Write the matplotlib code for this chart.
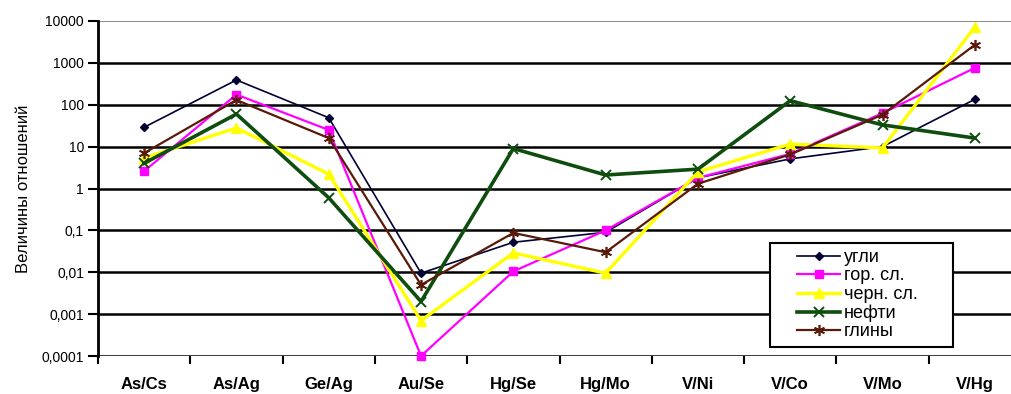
import matplotlib
matplotlib.use("Agg")
import matplotlib.pyplot as plt
from matplotlib.patches import Rectangle
import numpy as np

categories = ["As/Cs", "As/Ag", "Ge/Ag", "Au/Se", "Hg/Se", "Hg/Mo", "V/Ni", "V/Co", "V/Mo", "V/Hg"]
ugli =     [29, 390, 49, 0.0095, 0.052, 0.09, 1.8, 5.1, 10, 135]
gor_sl =   [2.6, 175, 25, 0.0001, 0.0105, 0.1, 1.8, 6.7, 63, 760]
chern_sl = [5.4, 28, 2.2, 0.0007, 0.029, 0.0095, 2.5, 11.5, 9.3, 7200]
nefti =    [4.0, 60, 0.6, 0.002, 9.0, 2.1, 2.9, 125, 33, 16]
gliny =    [7.0, 130, 16, 0.005, 0.087, 0.03, 1.3, 6.5, 58, 2700]
series_names = ["угли", "гор. сл.", "черн. сл.", "нефти", "глины"]
ytick_vals = [1e-4, 1e-3, 1e-2, 1e-1, 1, 10, 100, 1000, 10000]
ytick_labels = ["0,0001", "0,001", "0,01", "0,1", "1", "10", "100", "1000", "10000"]

plt.rcParams['font.family'] = ['Liberation Sans', 'DejaVu Sans']

W, H = 1011, 394
fig = plt.figure(figsize=(W / 100, H / 100), dpi=100)
ax = fig.add_axes([98 / W, 38 / H, 923 / W, 335 / H])

x = np.arange(len(categories))
styles = [
    dict(data=ugli, color="#000033", lw=1.2, marker="D", ms=4.5, mew=1),
    dict(data=gor_sl, color="#ff00ff", lw=1.6, marker="s", ms=6, mew=1),
    dict(data=chern_sl, color="#ffff00", lw=2.4, marker="^", ms=7, mew=1),
    dict(data=nefti, color="#0f4d0f", lw=2.6, marker="x", ms=7, mew=1.4),
    dict(data=gliny, color="#5a1a08", lw=1.6, marker=(6, 2, 0), ms=8, mew=1.2),
]
for name, st in zip(series_names, styles):
    ax.plot(x, st["data"], color=st["color"], lw=st["lw"], marker=st["marker"],
            ms=st["ms"], mew=st["mew"], mec=st["color"], mfc=st["color"], label=name,
            zorder=3, clip_on=False)

ax.set_yscale("log")
ax.set_ylim(1e-4, 1e4)
ax.set_xlim(-0.5, len(categories) - 0.5)
ax.set_yticks(ytick_vals)
ax.set_yticklabels(ytick_labels, fontsize=10)
ax.yaxis.set_minor_locator(matplotlib.ticker.NullLocator())
ax.set_xticks(x)
ax.set_xticklabels(categories, fontsize=12, fontweight="bold")
ax.set_xticks(np.arange(-0.5, len(categories)), minor=True)
ax.tick_params(axis="x", which="major", length=0, pad=15)
ax.tick_params(axis="x", which="minor", length=6, width=1.5, direction="out")
ax.tick_params(axis="y", length=7, width=1.5, direction="out", pad=3)

for v in ytick_vals:
    if v == 1e4:
        ax.axhline(v, color="#777777", lw=1.2, zorder=1)
    else:
        ax.axhline(v, color="black", lw=1.8, zorder=1)

for s in ["top", "right", "bottom"]:
    ax.spines[s].set_visible(False)
ax.spines["left"].set_linewidth(2)

ax.set_ylabel("Величины отношений", fontsize=12, labelpad=8)

# legend frame
frame = Rectangle((770 / W, 1 - 347 / H), (953 - 770) / W, (347 - 243) / H,
                  transform=fig.transFigure, facecolor="white", edgecolor="black",
                  lw=1.5, zorder=4)
fig.add_artist(frame)
leg = fig.legend(loc="upper left", bbox_to_anchor=(797 / W, 1 - 249 / H),
                 bbox_transform=fig.transFigure,
                 fontsize=13, frameon=False, handlelength=2.4, handletextpad=0.2,
                 labelspacing=0.08, borderpad=0, borderaxespad=0)
leg.set_zorder(5)

fig.savefig("out.png", dpi=100)
